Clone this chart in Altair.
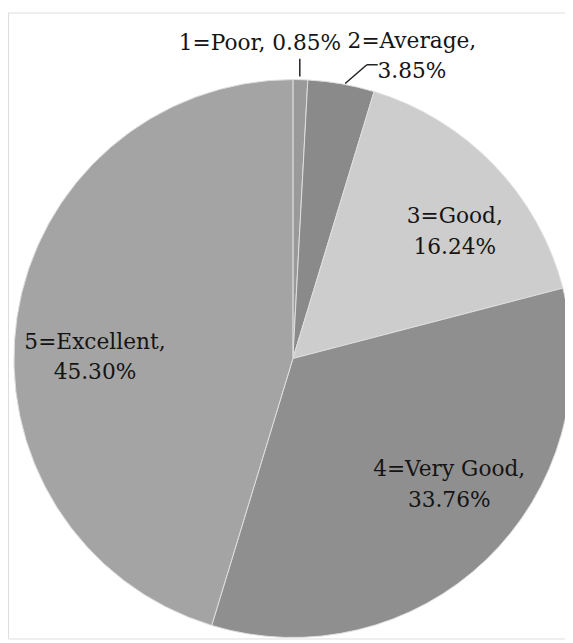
import altair as alt
import pandas as pd

categories = ["1=Poor", "2=Average", "3=Good", "4=Very Good", "5=Excellent"]
percents = [0.85, 3.85, 16.24, 33.76, 45.30]
colors = ["#9a9a9a", "#8a8a8a", "#cdcdcd", "#8f8f8f", "#a4a4a4"]

labels = [
    f"{c}, {p:.2f}%" if i == 0 else f"{c},\n{p:.2f}%"
    for i, (c, p) in enumerate(zip(categories, percents))
]

df = pd.DataFrame({"idx": range(len(categories)), "cat": categories,
                   "pct": percents, "label": labels})

CX, CY, R = 289, 351, 283
FONT = "DejaVu Serif"

pie = alt.Chart(df).mark_arc(radius=R, stroke="#dedede", strokeWidth=1).encode(
    theta=alt.Theta("pct:Q", stack=True),
    color=alt.Color("cat:N", scale=alt.Scale(domain=categories, range=colors), legend=None),
    order=alt.Order("idx:Q"),
    x=alt.value(CX),
    y=alt.value(CY),
)

text_base = alt.Chart(df).transform_window(
    cum="sum(pct)", sort=[alt.SortField("idx")], frame=[None, 0]
).transform_calculate(
    mid="(datum.cum - datum.pct / 2) / 100 * 2 * PI"
)

# label layout: (category, radius, dx, dy)
layout = [
    ("1=Poor", 320, -42, 0),
    ("2=Average", 327, 64, 0),
    ("3=Good", 218, 7, 7),
    ("4=Very Good", 200, 20, -32),
    ("5=Excellent", 203, 0, 13),
]

text_layers = []
for cat, rad, dx, dy in layout:
    text_layers.append(
        text_base.transform_filter(alt.datum.cat == cat).mark_text(
            radius=rad, dx=dx, dy=dy, font=FONT, fontSize=22, color="#141414",
            align="center", baseline="middle", lineBreak="\n", lineHeight=31,
        ).encode(
            theta=alt.Theta("mid:Q", scale=None),
            text="label:N",
            x=alt.value(CX),
            y=alt.value(CY),
        )
    )

one = alt.Data(values=[{"a": 1}])
lead1 = alt.Chart(one).mark_rule(color="#222", strokeWidth=1.5).encode(
    x=alt.value(296), x2=alt.value(296), y=alt.value(47), y2=alt.value(65))
lead2 = alt.Chart(one).mark_rule(color="#222", strokeWidth=1.5).encode(
    x=alt.value(342), x2=alt.value(364), y=alt.value(72), y2=alt.value(53))
lead3 = alt.Chart(one).mark_rule(color="#222", strokeWidth=1.5).encode(
    x=alt.value(364), x2=alt.value(375), y=alt.value(53), y2=alt.value(53))

chart = alt.layer(pie, *text_layers, lead1, lead2, lead3).properties(
    width=565, height=635, padding=0,
    autosize=alt.AutoSizeParams(type="none"),
).configure_view(strokeWidth=0).configure(background="white")

chart.save("out.html", embed_options={"renderer": "svg", "actions": False})
